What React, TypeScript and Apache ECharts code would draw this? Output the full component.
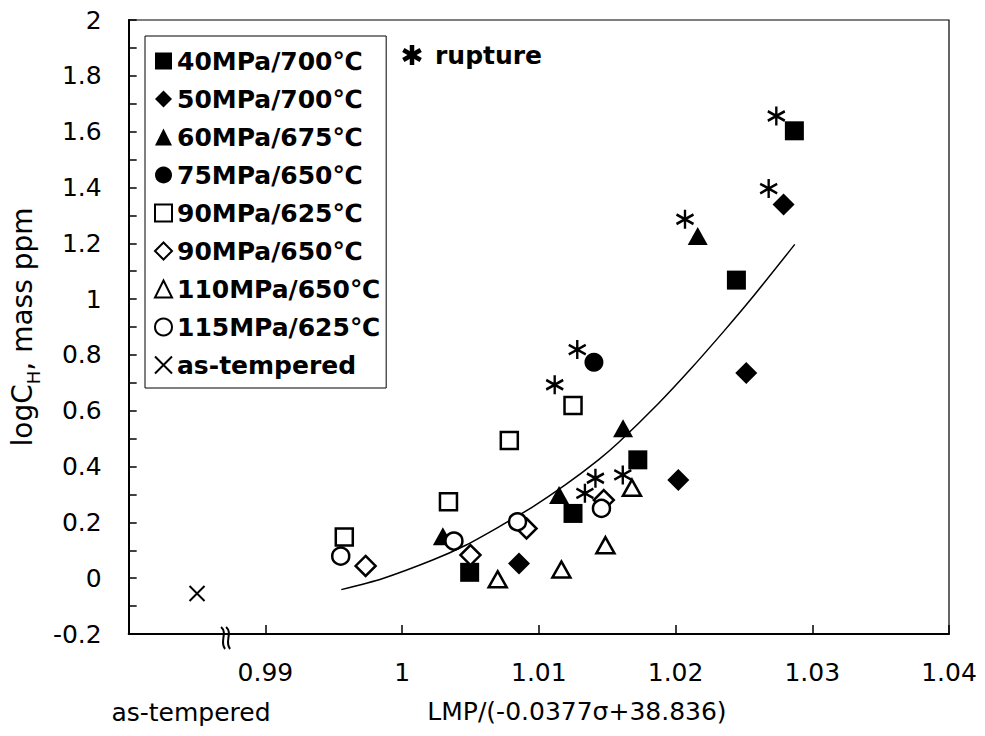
import React, { useEffect, useRef } from 'react';
import * as echarts from 'echarts';

const FONT = '"DejaVu Sans", sans-serif';

// x = LMP/(-0.0377σ+38.836), y = logC_H (mass ppm)
const sq40: number[][] = [[1.02869, 1.603], [1.02445, 1.068], [1.01724, 0.424], [1.0125, 0.232], [1.00494, 0.021]];
const dm50: number[][] = [[1.0279, 1.339], [1.02517, 0.735], [1.0202, 0.352], [1.00855, 0.053]];
const tr60: number[][] = [[1.02162, 1.226], [1.01616, 0.537], [1.01148, 0.298], [1.00298, 0.15]];
const ci75: number[][] = [[1.01403, 0.774]];
const osq90: number[][] = [[1.0125, 0.619], [1.00784, 0.493], [1.00339, 0.274], [0.99577, 0.148]];
const odm90: number[][] = [[1.01475, 0.28], [1.0091, 0.178], [1.005, 0.083], [0.99733, 0.044]];
const otr110: number[][] = [[1.01681, 0.324], [1.01487, 0.118], [1.01165, 0.031], [1.00699, -0.004]];
const oci115: number[][] = [[1.01458, 0.25], [1.00844, 0.202], [1.00379, 0.133], [0.99551, 0.079]];
const asTempered: number[][] = [[0.985, -0.055]];
const rupture: number[][] = [[1.02737, 1.656], [1.02681, 1.396], [1.02069, 1.286], [1.01281, 0.819], [1.01116, 0.693], [1.01614, 0.37], [1.01414, 0.358], [1.01337, 0.304]];
const fitCurve: number[][] = [[0.99555, -0.041], [0.99859, -0.001], [1.00223, 0.065], [1.00465, 0.118], [1.00708, 0.184], [1.0095, 0.254], [1.01193, 0.334], [1.01436, 0.424], [1.01581, 0.485], [1.01873, 0.625], [1.02115, 0.752], [1.02357, 0.887], [1.02552, 1.0], [1.02872, 1.196]];

const seriesNames = ['40MPa/700℃', '50MPa/700℃', '60MPa/675℃', '75MPa/650℃', '90MPa/625℃', '90MPa/650℃', '110MPa/650℃', '115MPa/625℃', 'as-tempered'];

const xMin = 0.98, xMax = 1.04, xStep = 0.01;
const yMin = -0.2, yMax = 2, yStep = 0.2;

const X_PATH = 'path://M0,0 L10,10 M10,0 L0,10';
const AST_PATH = 'path://M5,0 L5,10 M0.67,2.5 L9.33,7.5 M0.67,7.5 L9.33,2.5';

const filled = { color: '#000', opacity: 1 };
const open = { color: '#fff', borderColor: '#000', borderWidth: 2.5, opacity: 1 };

export default function App() {
  const ref = useRef<HTMLDivElement>(null);
  useEffect(() => {
    document.body.style.margin = '0';
    const chart = echarts.init(ref.current!, null, { renderer: 'svg' });
    const sc = (name: string, data: number[][], symbol: string, size: any, style: any) => ({
      type: 'scatter', name, data, symbol, symbolSize: size, itemStyle: style, z: 3,
    });
    chart.setOption({
      animation: false,
      backgroundColor: '#fff',
      grid: { left: 123, right: 36, top: 20, bottom: 102, show: true, borderColor: '#000', borderWidth: 1.2, backgroundColor: 'transparent' },
      xAxis: {
        type: 'value', min: xMin, max: xMax, interval: xStep,
        axisLine: { show: true, onZero: false, lineStyle: { color: '#000', width: 2 } },
        axisTick: { show: true, inside: true, length: 9, lineStyle: { color: '#000', width: 1.5 } },
        splitLine: { show: false },
        axisLabel: {
          margin: 26, color: '#000', fontSize: 25, fontFamily: FONT,
          formatter: (v: number) => (v < 0.985 ? '' : String(+v.toFixed(2))),
        },
      },
      yAxis: {
        type: 'value', min: yMin, max: yMax, interval: yStep,
        axisLine: { show: true, onZero: false, lineStyle: { color: '#000', width: 2 } },
        axisTick: { show: true, inside: true, length: 8, lineStyle: { color: '#000', width: 1.5 } },
        minorTick: { show: true, splitNumber: 2, length: 8, lineStyle: { color: '#000', width: 1.5 } },
        splitLine: { show: false },
        axisLabel: {
          margin: 27, color: '#000', fontSize: 25, fontFamily: FONT,
          formatter: (v: number) => String(+v.toFixed(1)),
        },
        name: '{a|logC}{s|H}{a|, mass ppm}',
        nameLocation: 'middle', nameRotate: 90, nameGap: 86,
        nameTextStyle: {
          color: '#000', fontFamily: FONT,
          rich: {
            a: { fontSize: 28, fontFamily: FONT, color: '#000', lineHeight: 32 },
            s: { fontSize: 18, fontFamily: FONT, color: '#000', lineHeight: 18, verticalAlign: 'bottom', padding: [0, 0, -4, 0] },
          },
        },
      },
      legend: {
        orient: 'vertical', left: 145, top: 36, padding: [11, 6, 9, 9],
        borderColor: '#000', borderWidth: 1, backgroundColor: '#fff',
        itemWidth: 17, itemHeight: 17, itemGap: 10, selectedMode: false,
        data: seriesNames,
        textStyle: { fontFamily: FONT, fontWeight: 'bold', fontSize: 25, lineHeight: 28, color: '#000' },
      },
      series: [
        { type: 'line', name: 'fit', data: fitCurve, smooth: 0.25, showSymbol: false, symbol: 'none', lineStyle: { color: '#000', width: 1.5 }, z: 2 },
        sc(seriesNames[0], sq40, 'rect', 19, filled),
        sc(seriesNames[1], dm50, 'diamond', 22, filled),
        sc(seriesNames[2], tr60, 'triangle', [20, 18], filled),
        sc(seriesNames[3], ci75, 'circle', 19, filled),
        sc(seriesNames[4], osq90, 'rect', 17, open),
        sc(seriesNames[5], odm90, 'diamond', 20, open),
        sc(seriesNames[6], otr110, 'triangle', [18, 16], open),
        sc(seriesNames[7], oci115, 'circle', 17, open),
        sc(seriesNames[8], asTempered, X_PATH, 15, { color: 'transparent', borderColor: '#000', borderWidth: 2, opacity: 1 }),
        { type: 'scatter', name: 'rupture', data: rupture, symbol: AST_PATH, symbolSize: [17, 19], itemStyle: { color: 'transparent', borderColor: '#000', borderWidth: 2.5, opacity: 1 }, z: 4 },
      ],
    });
    const bp = chart.convertToPixel({ gridIndex: 0 }, [0.98705, -0.2]) as number[];
    const bx = bp[0], by = bp[1];
    const wave = (dx: number) => ({
      type: 'bezierCurve',
      shape: { x1: bx + dx - 4, y1: by - 7, cpx1: bx + dx + 3, cpy1: by - 1, cpx2: bx + dx - 6, cpy2: by + 8, x2: bx + dx, y2: by + 15 },
      style: { stroke: '#000', lineWidth: 2, fill: 'none' },
      z: 10,
    });
    const ax = 412, ay = 55, r = 10;
    const arm = (ang: number) => ({
      type: 'line',
      shape: { x1: ax - r * Math.cos(ang), y1: ay - r * Math.sin(ang), x2: ax + r * Math.cos(ang), y2: ay + r * Math.sin(ang) },
      style: { stroke: '#000', lineWidth: 4.5 },
      z: 10,
    });
    chart.setOption({
      graphic: [
        wave(0), wave(5),
        arm(Math.PI / 2), arm(Math.PI / 6), arm(-Math.PI / 6),
        { type: 'text', x: 435, y: 55, z: 10, style: { text: 'rupture', font: `bold 25px ${FONT}`, fill: '#000', align: 'left', verticalAlign: 'middle' } },
        { type: 'text', x: 577, y: 711, z: 10, style: { text: 'LMP/(-0.0377σ+38.836)', font: `25px ${FONT}`, fill: '#000', align: 'center', verticalAlign: 'middle' } },
        { type: 'text', x: 191, y: 712, z: 10, style: { text: 'as-tempered', font: `25px ${FONT}`, fill: '#000', align: 'center', verticalAlign: 'middle' } },
      ],
    });
    return () => chart.dispose();
  }, []);
  return <div ref={ref} style={{ width: 985, height: 736 }} />;
}
